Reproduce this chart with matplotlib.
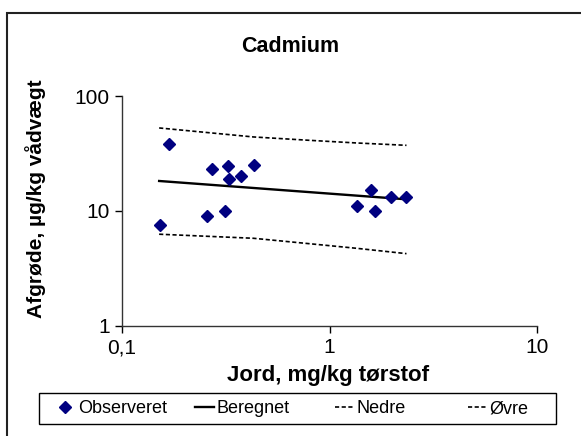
import matplotlib
matplotlib.use("Agg")
import matplotlib.pyplot as plt
from matplotlib.lines import Line2D
from matplotlib.patches import Rectangle

plt.rcParams['font.family'] = ['Liberation Sans', 'DejaVu Sans']

# observed soil vs crop concentrations
jord = [0.152, 0.169, 0.270, 0.258, 0.325, 0.329, 0.313, 0.376, 0.431,
        1.35, 1.585, 1.66, 1.98, 2.35]
afgroede = [7.6, 38.5, 23.1, 9.0, 24.4, 19.0, 10.0, 20.2, 25.1,
            11.1, 15.2, 10.0, 13.1, 13.1]

# fitted line (log-log) and lower/upper bands
fit_x = [0.151, 2.35]
fit_y = [18.2, 12.6]
band_x = [0.151, 0.43, 0.805, 1.35, 2.35]
nedre = [6.26, 5.77, 5.17, 4.72, 4.24]
oevre = [52.7, 44.0, 41.1, 39.0, 37.2]

x_ticks = [0.1, 1, 10]
x_ticklabels = ['0,1', '1', '10']
y_ticks = [1, 10, 100]
y_ticklabels = ['1', '10', '100']
legend_labels = ['Observeret', 'Beregnet', 'Nedre', 'Øvre']

DASH = (2.5, 1.5)

fig = plt.figure(figsize=(5.81, 4.36), dpi=100)
ax = fig.add_axes([122 / 581, 1 - 325.7 / 436, 415 / 581, 229.7 / 436])

ax.plot(jord, afgroede, linestyle='none', marker='D', markersize=6,
        color='#000080', zorder=3)
ax.plot(fit_x, fit_y, color='black', linewidth=1.7)
ax.plot(band_x, nedre, color='black', linewidth=1.2, dashes=DASH)
ax.plot(band_x, oevre, color='black', linewidth=1.2, dashes=DASH)

ax.set_xscale('log')
ax.set_yscale('log')
ax.set_xlim(0.1, 10)
ax.set_ylim(1, 100)
ax.set_xticks(x_ticks)
ax.set_xticklabels(x_ticklabels)
ax.set_yticks(y_ticks)
ax.set_yticklabels(y_ticklabels)
ax.minorticks_off()
ax.tick_params(direction='out', length=5, width=1, labelsize=15, pad=4)

for side in ['top', 'right']:
    ax.spines[side].set_visible(False)
for side in ['left', 'bottom']:
    ax.spines[side].set_color('#333333')
    ax.spines[side].set_linewidth(1)

fig.text(290 / 581, 1 - 46 / 436, 'Cadmium', ha='center', va='center',
         fontsize=15.5, fontweight='bold')
fig.text(328 / 581, 1 - 375 / 436, 'Jord, mg/kg tørstof', ha='center', va='center',
         fontsize=16, fontweight='bold')
fig.text(36 / 581, 1 - 199 / 436, 'Afgrøde, µg/kg vådvægt', ha='center', va='center',
         rotation=90, fontsize=15, fontweight='bold')

# legend: equal-width columns inside one box
handles = [
    Line2D([], [], linestyle='none', marker='D', markersize=6, color='#000080'),
    Line2D([], [], color='black', linewidth=1.7),
    Line2D([], [], color='black', linewidth=1.2, dashes=DASH),
    Line2D([], [], color='black', linewidth=1.2, dashes=DASH),
]
col_x = [56, 195, 335, 468]
for h, lab, x0 in zip(handles, legend_labels, col_x):
    fig.legend([h], [lab], loc='center left',
               bbox_to_anchor=(x0 / 581, 1 - 408.5 / 436),
               fontsize=13, frameon=False, borderaxespad=0, borderpad=0,
               handlelength=1.05, handletextpad=0.15)

fig.patches.append(Rectangle((39 / 581, 1 - 423.5 / 436), 517 / 581, 30.5 / 436,
                             transform=fig.transFigure, fill=False,
                             edgecolor='black', linewidth=1))

# chart area border
fig.patches.append(Rectangle((7 / 581, -0.05), 1.1, 1 - 13 / 436 + 0.05,
                             transform=fig.transFigure, fill=False,
                             edgecolor='#222222', linewidth=1.5))

fig.savefig('out.png', dpi=100)
